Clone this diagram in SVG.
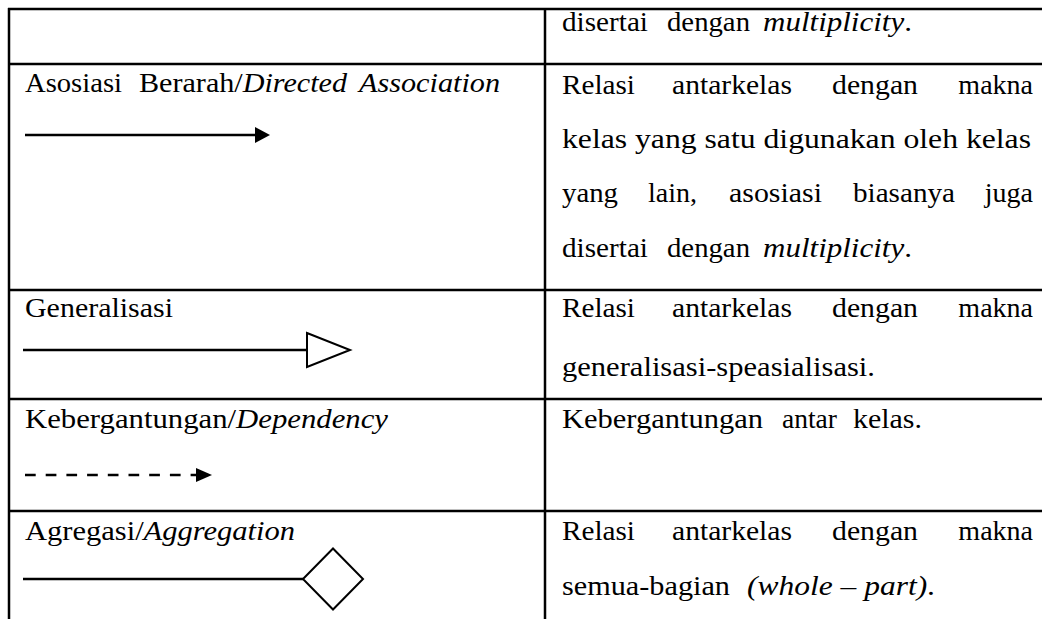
<svg xmlns="http://www.w3.org/2000/svg" width="1042" height="619" viewBox="0 0 1042 619">
<style>
text{font-family:'Liberation Serif','Times New Roman',serif;font-size:28px;fill:#000}
.i{font-style:italic}
.e{text-anchor:end}
.g{stroke:#000;stroke-width:2.5;fill:none}
.c{stroke:#000;stroke-width:2.4;fill:none}
</style>
<rect x="0" y="0" width="1042" height="619" fill="#fff"/>
<g id="grid">
<line class="g" x1="8" y1="9" x2="1042" y2="9"/>
<line class="g" x1="8" y1="64" x2="1042" y2="64"/>
<line class="g" x1="8" y1="290" x2="1042" y2="290"/>
<line class="g" x1="8" y1="399" x2="1042" y2="399"/>
<line class="g" x1="8" y1="511" x2="1042" y2="511"/>
<line class="g" x1="9" y1="8" x2="9" y2="619"/>
<line class="g" x1="545" y1="8" x2="545" y2="619"/>
</g>
<g id="row-multiplicity">
<text x="562" y="31" textLength="86" lengthAdjust="spacingAndGlyphs">disertai</text>
<text x="667" y="31" textLength="83" lengthAdjust="spacingAndGlyphs">dengan</text>
<text class="i" x="763" y="31" textLength="149" lengthAdjust="spacingAndGlyphs">multiplicity<tspan font-style="normal">.</tspan></text>
</g>
<g id="row-directed-association">
<text x="25" y="92" textLength="97" lengthAdjust="spacingAndGlyphs">Asosiasi</text>
<text x="139" y="92" textLength="208" lengthAdjust="spacingAndGlyphs">Berarah/<tspan class="i">Directed</tspan></text>
<text class="i" x="359" y="92" textLength="141" lengthAdjust="spacingAndGlyphs">Association</text>
<text x="562" y="94" textLength="73" lengthAdjust="spacingAndGlyphs">Relasi</text>
<text x="672" y="94" textLength="120" lengthAdjust="spacingAndGlyphs">antarkelas</text>
<text x="832" y="94" textLength="86" lengthAdjust="spacingAndGlyphs">dengan</text>
<text class="e" x="1033" y="94">makna</text>
<text x="562" y="148" textLength="469" lengthAdjust="spacingAndGlyphs">kelas yang satu digunakan oleh kelas</text>
<text x="562" y="202" textLength="56" lengthAdjust="spacingAndGlyphs">yang</text>
<text x="648" y="202">lain,</text>
<text x="729" y="202" textLength="93" lengthAdjust="spacingAndGlyphs">asosiasi</text>
<text x="853" y="202" textLength="102" lengthAdjust="spacingAndGlyphs">biasanya</text>
<text class="e" x="1033" y="202">juga</text>
<text x="562" y="257" textLength="86" lengthAdjust="spacingAndGlyphs">disertai</text>
<text x="667" y="257" textLength="83" lengthAdjust="spacingAndGlyphs">dengan</text>
<text class="i" x="763" y="257" textLength="149" lengthAdjust="spacingAndGlyphs">multiplicity<tspan font-style="normal">.</tspan></text>
</g>
<g id="row-generalisasi">
<text x="25" y="317" textLength="148" lengthAdjust="spacingAndGlyphs">Generalisasi</text>
<text x="562" y="317" textLength="73" lengthAdjust="spacingAndGlyphs">Relasi</text>
<text x="672" y="317" textLength="120" lengthAdjust="spacingAndGlyphs">antarkelas</text>
<text x="832" y="317" textLength="86" lengthAdjust="spacingAndGlyphs">dengan</text>
<text class="e" x="1033" y="317">makna</text>
<text x="562" y="376" textLength="313" lengthAdjust="spacingAndGlyphs">generalisasi-speasialisasi.</text>
</g>
<g id="row-dependency">
<text x="25" y="428" textLength="363" lengthAdjust="spacingAndGlyphs">Kebergantungan/<tspan class="i">Dependency</tspan></text>
<text x="562" y="428" textLength="201" lengthAdjust="spacingAndGlyphs">Kebergantungan</text>
<text x="782" y="428" textLength="55" lengthAdjust="spacingAndGlyphs">antar</text>
<text x="853" y="428" textLength="69" lengthAdjust="spacingAndGlyphs">kelas.</text>
</g>
<g id="row-aggregation">
<text x="25" y="540" textLength="270" lengthAdjust="spacingAndGlyphs">Agregasi/<tspan class="i">Aggregation</tspan></text>
<text x="562" y="540" textLength="73" lengthAdjust="spacingAndGlyphs">Relasi</text>
<text x="672" y="540" textLength="120" lengthAdjust="spacingAndGlyphs">antarkelas</text>
<text x="832" y="540" textLength="86" lengthAdjust="spacingAndGlyphs">dengan</text>
<text class="e" x="1033" y="540">makna</text>
<text x="562" y="595" textLength="168" lengthAdjust="spacingAndGlyphs">semua-bagian</text>
<text class="i" x="747" y="595" textLength="188" lengthAdjust="spacingAndGlyphs">(whole – part)<tspan font-style="normal">.</tspan></text>
</g>
<g id="connectors">
<line class="c" x1="25" y1="135" x2="256" y2="135" stroke-width="2.8"/>
<polygon points="255,127 270,135 255,143" fill="#000"/>
<line class="c" x1="23" y1="350" x2="307" y2="350" stroke-width="2"/>
<polygon points="307,333 350,350 307,367" fill="#fff" stroke="#000" stroke-width="2"/>
<line class="c" x1="25" y1="475" x2="198" y2="475" stroke-dasharray="10.7 10"/>
<polygon points="196,468 212,475 196,482" fill="#000"/>
<line class="c" x1="23" y1="579" x2="303" y2="579" stroke-width="2"/>
<polygon points="303,579 333,548.5 363,579 333,609.5" fill="#fff" stroke="#000" stroke-width="2"/>
</g>
</svg>
